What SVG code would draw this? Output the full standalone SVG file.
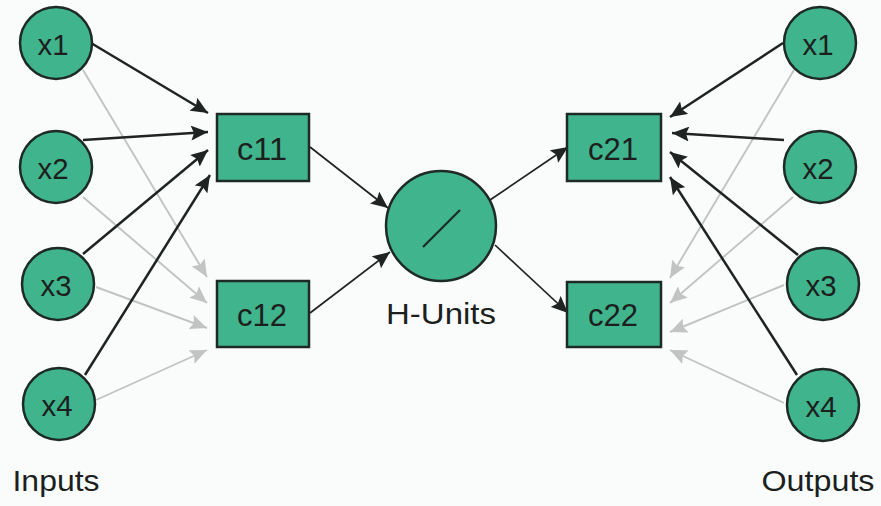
<svg xmlns="http://www.w3.org/2000/svg" width="881" height="506" viewBox="0 0 881 506">
<defs>
<marker id="ad" markerUnits="userSpaceOnUse" markerWidth="17" markerHeight="15" refX="17" refY="7.5" orient="auto">
<path d="M0,0 L17,7.5 L0,15 L3,7.5 z" fill="#1f2321"/>
</marker>
<marker id="ag" markerUnits="userSpaceOnUse" markerWidth="17" markerHeight="15" refX="17" refY="7.5" orient="auto">
<path d="M0,0 L17,7.5 L0,15 L3,7.5 z" fill="#c2c4c4"/>
</marker>
</defs>
<style>
.n{fill:#40b48c;stroke:#1e2a25;stroke-width:2.5}
.t{font-family:"Liberation Sans",Arial,sans-serif;font-size:30px;fill:#1c1f1e;text-anchor:middle}
.c{font-size:31px}
.d{stroke:#1f2321;stroke-width:2.5;fill:none;marker-end:url(#ad)}
.m{stroke:#1f2321;stroke-width:1.7;fill:none;marker-end:url(#ad)}
.g{stroke:#c2c4c4;stroke-width:1.9;fill:none;marker-end:url(#ag)}
</style>
<rect width="881" height="506" fill="#fafcfc"/>
<g id="connectors">
<line class="g" x1="83" y1="70" x2="207" y2="277"/>
<line class="g" x1="83" y1="197" x2="207" y2="303"/>
<line class="g" x1="96" y1="287" x2="207" y2="328"/>
<line class="g" x1="96" y1="400" x2="207" y2="350"/>
<line class="g" x1="794" y1="70" x2="670" y2="278"/>
<line class="g" x1="793" y1="197" x2="670" y2="303"/>
<line class="g" x1="784" y1="285" x2="670" y2="332"/>
<line class="g" x1="784" y1="403" x2="670" y2="350"/>
<line class="d" x1="91" y1="43" x2="208" y2="113"/>
<line class="d" x1="83" y1="140" x2="208" y2="132"/>
<line class="d" x1="83" y1="254" x2="208" y2="150"/>
<line class="d" x1="85" y1="375" x2="210" y2="175"/>
<line class="d" x1="783" y1="43" x2="670" y2="117"/>
<line class="d" x1="784" y1="140" x2="672" y2="133"/>
<line class="d" x1="798" y1="255" x2="670" y2="152"/>
<line class="d" x1="797" y1="375" x2="670" y2="177"/>
<line class="m" x1="310" y1="147" x2="388" y2="208"/>
<line class="m" x1="310" y1="313" x2="390" y2="252"/>
<line class="m" x1="490" y1="200" x2="568" y2="147"/>
<line class="m" x1="495" y1="245" x2="568" y2="313"/>
</g>
<g id="in-x1"><circle class="n" cx="56" cy="43" r="36"/><text class="t" x="53" y="55" textLength="31" lengthAdjust="spacingAndGlyphs">x1</text></g>
<g id="in-x2"><circle class="n" cx="56" cy="167" r="36"/><text class="t" x="53" y="179" textLength="31" lengthAdjust="spacingAndGlyphs">x2</text></g>
<g id="in-x3"><circle class="n" cx="58" cy="284" r="36"/><text class="t" x="56" y="296" textLength="31" lengthAdjust="spacingAndGlyphs">x3</text></g>
<g id="in-x4"><circle class="n" cx="59" cy="404" r="36"/><text class="t" x="57" y="416" textLength="31" lengthAdjust="spacingAndGlyphs">x4</text></g>
<g id="c11"><rect class="n" x="217" y="114" width="92" height="67"/><text class="t c" x="262" y="160" textLength="50" lengthAdjust="spacingAndGlyphs">c11</text></g>
<g id="c12"><rect class="n" x="217" y="281" width="92" height="66"/><text class="t c" x="262" y="326" textLength="50" lengthAdjust="spacingAndGlyphs">c12</text></g>
<g id="h-units"><circle class="n" cx="441" cy="226" r="55"/><line x1="423" y1="247" x2="460" y2="210" stroke="#1e2a25" stroke-width="2.2"/><text class="t" x="441" y="324" textLength="110" lengthAdjust="spacingAndGlyphs">H-Units</text></g>
<g id="c21"><rect class="n" x="567" y="114" width="94" height="67"/><text class="t c" x="613" y="160" textLength="50" lengthAdjust="spacingAndGlyphs">c21</text></g>
<g id="c22"><rect class="n" x="567" y="282" width="94" height="65"/><text class="t c" x="613" y="326" textLength="50" lengthAdjust="spacingAndGlyphs">c22</text></g>
<g id="out-x1"><circle class="n" cx="820" cy="43" r="36"/><text class="t" x="818" y="55" textLength="31" lengthAdjust="spacingAndGlyphs">x1</text></g>
<g id="out-x2"><circle class="n" cx="820" cy="167" r="36"/><text class="t" x="818" y="179" textLength="31" lengthAdjust="spacingAndGlyphs">x2</text></g>
<g id="out-x3"><circle class="n" cx="823" cy="284" r="36"/><text class="t" x="821" y="296" textLength="31" lengthAdjust="spacingAndGlyphs">x3</text></g>
<g id="out-x4"><circle class="n" cx="823" cy="405" r="36"/><text class="t" x="821" y="417" textLength="31" lengthAdjust="spacingAndGlyphs">x4</text></g>
<g id="inputs-label"><text class="t" x="56" y="491" textLength="87" lengthAdjust="spacingAndGlyphs">Inputs</text></g>
<g id="outputs-label"><text class="t" x="818" y="491" textLength="113" lengthAdjust="spacingAndGlyphs">Outputs</text></g>
</svg>
